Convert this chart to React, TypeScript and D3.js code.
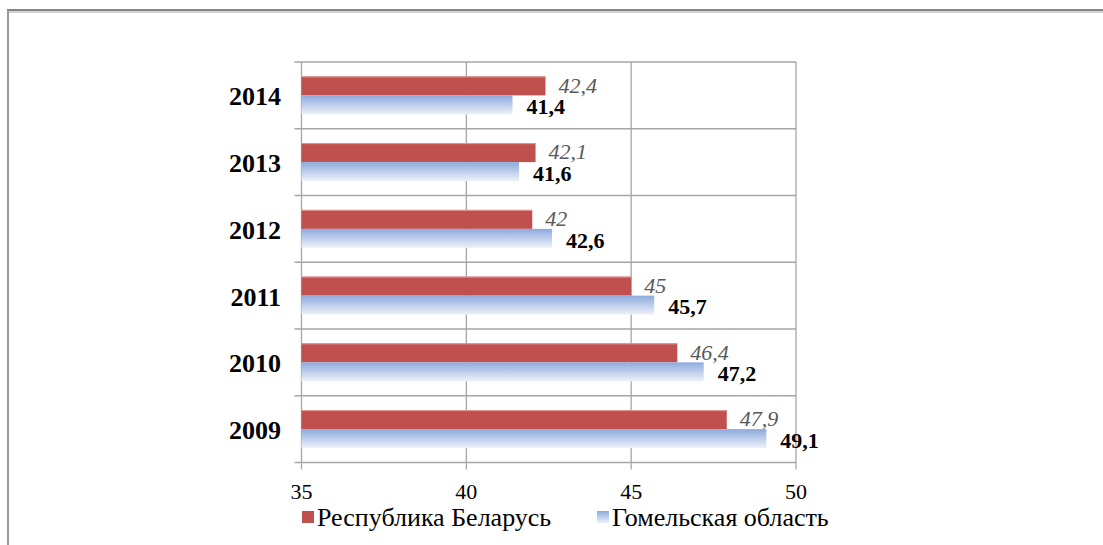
import React from 'react';
import * as d3 from 'd3';

// years from top to bottom, as in the picture
const years = ['2014', '2013', '2012', '2011', '2010', '2009'];
const belarus = [42.4, 42.1, 42, 45, 46.4, 47.9];
const gomel = [41.4, 41.6, 42.6, 45.7, 47.2, 49.1];
const xTicks = [35, 40, 45, 50];
const seriesNames = ['Республика Беларусь', 'Гомельская область'];

const W = 1103;
const H = 545;
const font = "'Liberation Serif', 'DejaVu Serif', serif";

const fmt = (v: number) => String(v).replace('.', ',');

export default function App() {
  const x = d3.scaleLinear().domain([35, 50]).range([301.5, 796]);
  const y = d3.scaleBand().domain(years).range([62, 462.5]);
  const groupH = 38;
  const off = (y.bandwidth() - groupH) / 2;
  const inner = d3.scaleBand().domain(['rb', 'gom']).range([0, groupH]);

  const top = y.range()[0];
  const bottom = y.range()[1];
  const grid = '#a6a6a6';

  return (
    <svg width={W} height={H} style={{ position: 'absolute', left: 0, top: 0, fontFamily: font }}>
      <defs>
        <linearGradient id="blueGrad" x1="0" y1="0" x2="0" y2="1">
          <stop offset="0%" stopColor="#8daadd" />
          <stop offset="100%" stopColor="#eef2fa" />
        </linearGradient>
      </defs>
      <rect width={W} height={H} fill="#fff" />

      {/* outer frame */}
      <line x1={7} y1={10} x2={W} y2={10} stroke="#858585" strokeWidth={2} />
      <line x1={7} y1={12} x2={W} y2={12} stroke="#d4d4d4" strokeWidth={2} />
      <line x1={8} y1={10} x2={8} y2={H} stroke="#9a9a9a" strokeWidth={2} />

      {/* vertical gridlines, with ticks below the axis */}
      {xTicks.map((t) => (
        <line key={'v' + t} x1={x(t)} x2={x(t)} y1={top} y2={bottom + 7}
          stroke={grid} strokeWidth={1.3} />
      ))}
      {/* category separators, with ticks left of the axis */}
      {years.map((yr) => (
        <line key={'h' + yr} x1={x(35) - 7} x2={x(50)} y1={y(yr)} y2={y(yr)}
          stroke={grid} strokeWidth={1.3} />
      ))}
      <line x1={x(35) - 7} x2={x(50)} y1={bottom} y2={bottom} stroke={grid} strokeWidth={1.3} />

      {/* bars */}
      {years.map((yr, i) => {
        const y0 = (y(yr) as number) + off;
        return (
          <g key={'b' + yr}>
            <rect x={x(35)} y={y0 + (inner('rb') as number)} width={x(belarus[i]) - x(35)}
              height={inner.bandwidth()} fill="#c0504d" />
            <line x1={x(35)} x2={x(belarus[i])} y1={y0 + 0.5} y2={y0 + 0.5}
              stroke="#e29a98" strokeWidth={1} />
            <rect x={x(35)} y={y0 + (inner('gom') as number)} width={x(gomel[i]) - x(35)}
              height={inner.bandwidth()} fill="url(#blueGrad)" />
            <text x={x(belarus[i]) + 13} y={y0 + (inner('rb') as number) + inner.bandwidth() / 2 - 1}
              dy="0.35em" fontFamily={font} fontSize={22} fontStyle="italic" fill="#595959">
              {fmt(belarus[i])}
            </text>
            <text x={x(gomel[i]) + 14} y={y0 + (inner('gom') as number) + inner.bandwidth() / 2 + 1.5}
              dy="0.35em" fontFamily={font} fontSize={22} fontWeight="bold" fill="#000">
              {fmt(gomel[i])}
            </text>
          </g>
        );
      })}

      {/* category labels */}
      {years.map((yr) => (
        <text key={'l' + yr} x={281} y={(y(yr) as number) + y.bandwidth() / 2 + 1}
          dy="0.35em" textAnchor="end" fontFamily={font} fontSize={26} fontWeight="bold" fill="#000">
          {yr}
        </text>
      ))}

      {/* x tick labels */}
      {xTicks.map((t) => (
        <text key={'t' + t} x={x(t)} y={491} dy="0.35em" textAnchor="middle"
          fontFamily={font} fontSize={22} fill="#000">
          {t}
        </text>
      ))}

      {/* legend */}
      <rect x={302} y={511} width={12} height={12} fill="#c0504d" />
      <text x={317} y={517} dy="0.35em" fontFamily={font} fontSize={26} fill="#000">{seriesNames[0]}</text>
      <rect x={597} y={511} width={12} height={12} fill="url(#blueGrad)" />
      <text x={612} y={517} dy="0.35em" fontFamily={font} fontSize={26} fill="#000">{seriesNames[1]}</text>
    </svg>
  );
}
